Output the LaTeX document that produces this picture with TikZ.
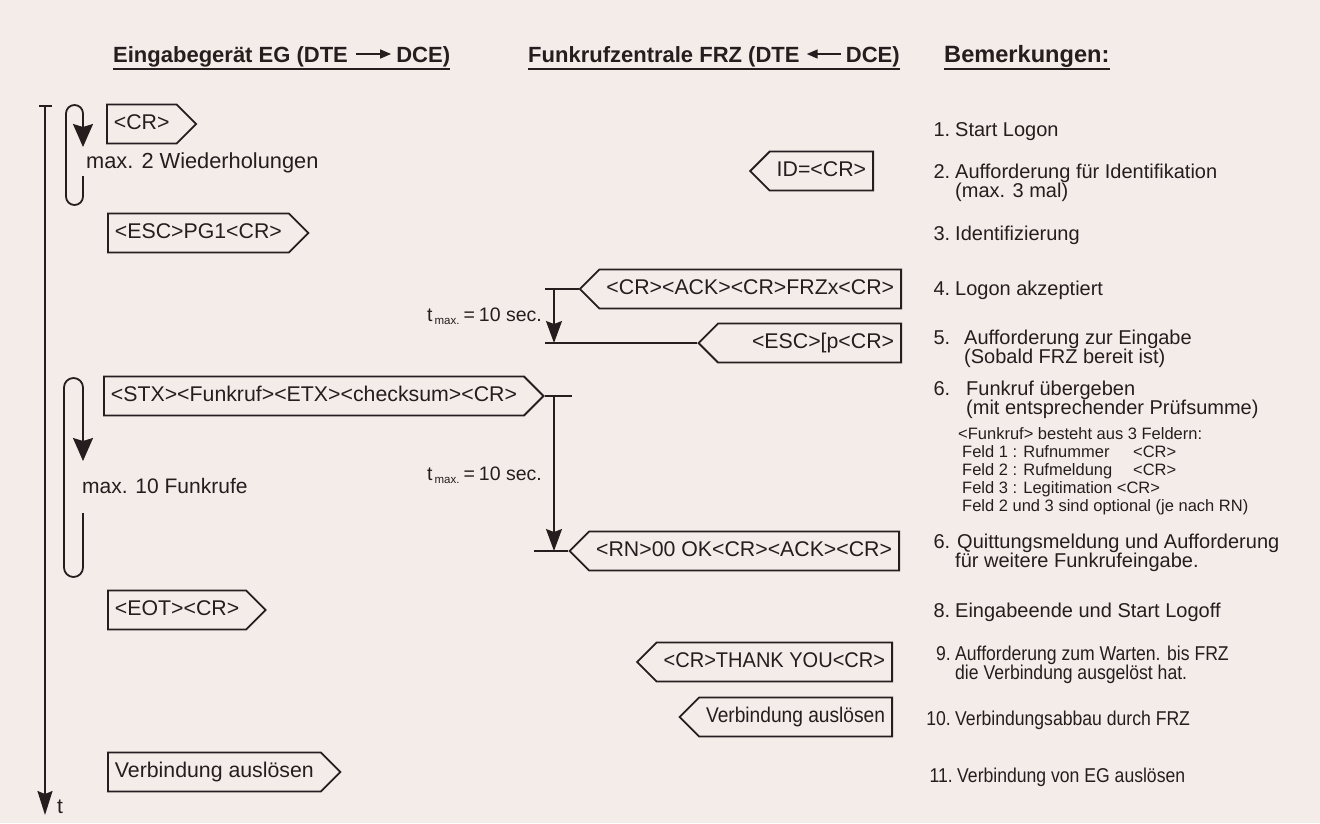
\documentclass[tikz,border=0pt]{standalone}
\usepackage{fontspec}
\setmainfont{Liberation Sans}
\usetikzlibrary{shapes.symbols,arrows.meta}

\definecolor{paper}{RGB}{244,236,233}
\definecolor{ink}{RGB}{38,30,30}

\newcommand{\boxfont}{\fontsize{21.3}{25}\selectfont}
\newcommand{\labfont}{\fontsize{21}{25}\selectfont}
\newcommand{\remfont}{\fontsize{20}{24}\selectfont}
\newcommand{\smallremfont}{\fontsize{16.5}{19}\selectfont}
\newcommand{\headfont}{\fontsize{22}{27}\selectfont\bfseries}
\newcommand{\narrowtext}[2][0.88]{\scalebox{#1}[1]{#2}}
\newcommand{\tmaxlabel}{t\hspace{2pt}\raisebox{-3pt}{\fontsize{11.5}{12}\selectfont max.}\hspace{4pt}=\hspace{4pt}10 sec.}

\tikzset{
  msgbox/.style={signal, signal pointer angle=90, draw=ink, line width=1.8pt,
    text height=15pt, text depth=4pt, inner ysep=10pt, inner xsep=7pt, font=\boxfont},
  egmsg/.style={msgbox, signal to=east, anchor=west},
  frzmsg/.style={msgbox, signal to=west, anchor=east},
  hd/.style={font=\headfont, anchor=base west},
  rem/.style={font=\remfont, anchor=base west},
  remsmall/.style={font=\smallremfont, anchor=base west},
  lab/.style={font=\labfont, anchor=west},
  headrule/.style={draw=ink, line width=1.8pt},
  hdarrow/.style={draw=ink, line width=1.6pt, -{Triangle[length=11pt,width=9pt]}},
  axisline/.style={draw=ink, line width=1.5pt},
  loopline/.style={draw=ink, line width=1.8pt},
  tline/.style={draw=ink, line width=1.3pt},
  looptip/.tip={Stealth[length=23pt,width=20pt,inset=3pt]},
  timetip/.tip={Stealth[length=22pt,width=16pt,inset=3pt]},
  axistip/.tip={Stealth[length=24pt,width=15pt,inset=3pt]}
}

\begin{document}
\begin{tikzpicture}[x=1pt,y=-1pt, every node/.style={text=ink, inner sep=0pt}]
\fill[paper] (0,0) rectangle (1320,823);
\useasboundingbox (0,0) rectangle (1320,823);

% column headings, each with its direction arrow and underline
\node[hd] (h1a) at (113,62) {Eingabegerät EG (DTE};
\node[hd] (h1b) at ([xshift=48pt]h1a.base east) {DCE)};
\draw[hdarrow] ([xshift=8pt,yshift=8pt]h1a.base east) -- ([xshift=-5pt,yshift=8pt]h1b.base west);
\node[hd] (h2a) at (528,62) {Funkrufzentrale FRZ (DTE};
\node[hd] (h2b) at ([xshift=46pt]h2a.base east) {DCE)};
\draw[hdarrow] ([xshift=-5pt,yshift=8pt]h2b.base west) -- ([xshift=7pt,yshift=8pt]h2a.base east);
\node[hd, font=\fontsize{23.6}{28}\selectfont\bfseries] (h3) at (944,62) {Bemerkungen:};
\draw[headrule] ([yshift=-7pt]h1a.base west) -- ([yshift=-7pt]h1b.base east);
\draw[headrule] ([yshift=-7pt]h2a.base west) -- ([yshift=-7pt]h2b.base east);
\draw[headrule] ([yshift=-7pt]h3.base west) -- ([yshift=-7pt]h3.base east);

% time axis
\coordinate (axtop) at (45,106);
\coordinate (axend) at (45,815);
\coordinate (ticka) at (39,106);
\coordinate (tickb) at (52,106);
\draw[axisline] (ticka) -- (tickb);
\draw[axisline, -axistip] (axtop) -- (axend);
\node[font=\labfont, anchor=base west] (tlab) at (57,813) {t};

% repetition loops
\draw[loopline, rounded corners=8.5pt, -looptip]
  (83,176) -- (83,205) -- (66,205) -- (66,105) -- (83,105) -- (83,147);
\node[lab, font=\fontsize{21.8}{25}\selectfont] (rep1) at (86,163) {max. 2 Wiederholungen};
\draw[loopline, rounded corners=9.5pt, -looptip]
  (83,513) -- (83,577) -- (64,577) -- (64,378) -- (83,378) -- (83,461);
\node[lab] (rep2) at (82,486) {max. 10 Funkrufe};

% messages
\node[egmsg]  (m1)  at (106,124) {<CR>};
\node[frzmsg] (m2)  at (874,171) {ID=<CR>};
\node[egmsg]  (m3)  at (107,233) {<ESC>PG1<CR>};
\node[frzmsg] (m4)  at (902,289) {<CR><ACK><CR>FRZx<CR>};
\node[frzmsg] (m5)  at (902,343) {\hspace{27pt}<ESC>[p<CR>};
\node[egmsg]  (m6)  at (103,396) {<STX><Funkruf><ETX><checksum><CR>};
\node[frzmsg] (m7)  at (900,551) {<RN>00 OK<CR><ACK><CR>};
\node[egmsg]  (m8)  at (107,610) {<EOT><CR>};
\node[frzmsg] (m9)  at (893,662) {\narrowtext[0.94]{<CR>THANK YOU<CR>}};
\node[frzmsg] (m10) at (893,717) {\narrowtext[0.9]{Verbindung auslösen}};
\node[egmsg]  (m11) at (107,772) {Verbindung auslösen};

% response time limits
\coordinate (tx) at (554,0);
\draw[tline] (m4.west) -- ++(-34,0);
\draw[tline, -timetip] (m4.west -| tx) -- (m5.west -| tx);
\draw[tline] (m5.west) -- ++(-152,0);
\node[font=\fontsize{19.5}{23}\selectfont, anchor=east] (tl1) at (542,316) {\tmaxlabel};

\draw[tline] (m6.east) -- ++(27,0);
\draw[tline, -timetip] (m6.east -| tx) -- (m7.west -| tx);
\draw[tline] (m7.west) -- ++(-34,0);
\node[font=\fontsize{19.5}{23}\selectfont, anchor=east] (tl2) at (542,475) {\tmaxlabel};

% remarks
\node[rem] (r1) at (955,136) {\llap{1.\hspace{5pt}}Start Logon};
\node[rem] (r2) at (955,178) {\llap{2.\hspace{5pt}}Aufforderung für Identifikation};
\node[rem] (r2b) at (955,197) {(max. 3 mal)};
\node[rem] (r3) at (955,240) {\llap{3.\hspace{5pt}}Identifizierung};
\node[rem] (r4) at (955,295) {\llap{4.\hspace{5pt}}Logon akzeptiert};
\node[rem] (r5) at (964,344) {\llap{5.\hspace{14pt}}Aufforderung zur Eingabe};
\node[rem] (r5b) at (964,363) {(Sobald FRZ bereit ist)};
\node[rem] (r6) at (966,395) {\llap{6.\hspace{16pt}}Funkruf übergeben};
\node[rem] (r6b) at (966,414) {(mit entsprechender Prüfsumme)};
\node[remsmall] (s1) at (958,439) {<Funkruf> besteht aus 3 Feldern:};
\node[remsmall] (s2) at (962,457) {\makebox[171pt][l]{Feld 1 : Rufnummer}<CR>};
\node[remsmall] (s3) at (962,475) {\makebox[171pt][l]{Feld 2 : Rufmeldung}<CR>};
\node[remsmall] (s4) at (962,493) {Feld 3 : Legitimation <CR>};
\node[remsmall] (s5) at (962,511) {Feld 2 und 3 sind optional (je nach RN)};
\node[rem] (r7) at (957,548) {\llap{6.\hspace{7pt}}Quittungsmeldung und Aufforderung};
\node[rem] (r7b) at (955,567) {für weitere Funkrufeingabe.};
\node[rem] (r8) at (955,617) {\llap{8.\hspace{5pt}}Eingabeende und Start Logoff};
\node[rem] (r9) at (955,660) {\narrowtext{\llap{9.\hspace{5pt}}Aufforderung zum Warten. bis FRZ}};
\node[rem] (r9b) at (955,679) {\narrowtext{die Verbindung ausgelöst hat.}};
\node[rem] (r10) at (955,725) {\narrowtext{\llap{10.\hspace{5pt}}Verbindungsabbau durch FRZ}};
\node[rem] (r11) at (957,782) {\narrowtext{\llap{11.\hspace{5pt}}Verbindung von EG auslösen}};
\end{tikzpicture}
\end{document}
